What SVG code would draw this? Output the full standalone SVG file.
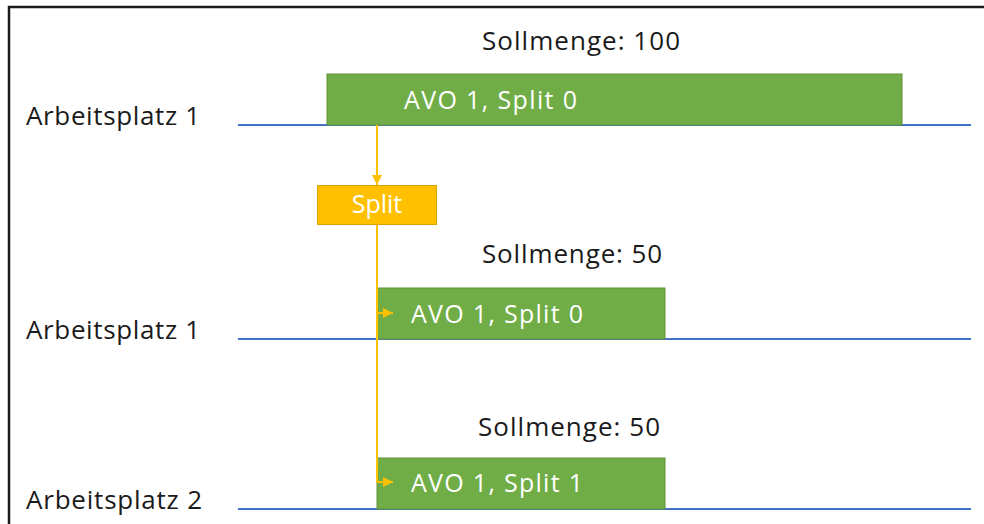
<svg xmlns="http://www.w3.org/2000/svg" width="984" height="524" viewBox="0 0 984 524">
<style>
.lbl{font-family:"Open Sans","Liberation Sans",sans-serif;font-size:26px;fill:#1a1a1a}
.wt{font-family:"Open Sans","Liberation Sans",sans-serif;font-size:25px;fill:#ffffff}
.bar{fill:#70AD47;stroke:#5E913B;stroke-width:1}
.lane{stroke:#4472C4;stroke-width:2;fill:none}
.con{stroke:#FFC000;stroke-width:2;fill:none}
</style>
<defs>
<marker id="ah" viewBox="0 0 10 10" refX="10" refY="5" markerWidth="5" markerHeight="5" orient="auto" markerUnits="strokeWidth">
<path d="M0,0 L10,5 L0,10 z" fill="#FFC000"/>
</marker>
</defs>
<rect x="0" y="0" width="984" height="524" fill="#ffffff"/>
<path d="M9,524 V7 H984" fill="none" stroke="#1a1a1a" stroke-width="2.5"/>
<g id="lanes">
<line class="lane" x1="238" y1="125" x2="971" y2="125"/>
<line class="lane" x1="238" y1="339" x2="971" y2="339"/>
<line class="lane" x1="238" y1="509" x2="971" y2="509"/>
</g>
<g id="labels">
<text class="lbl" x="26" y="125" textLength="174" lengthAdjust="spacing">Arbeitsplatz 1</text>
<text class="lbl" x="26" y="339" textLength="174" lengthAdjust="spacing">Arbeitsplatz 1</text>
<text class="lbl" x="26" y="509" textLength="176" lengthAdjust="spacing">Arbeitsplatz 2</text>
<text class="lbl" x="482" y="50" textLength="198" lengthAdjust="spacing">Sollmenge: 100</text>
<text class="lbl" x="482" y="263" textLength="180" lengthAdjust="spacing">Sollmenge: 50</text>
<text class="lbl" x="478" y="436" textLength="182" lengthAdjust="spacing">Sollmenge: 50</text>
</g>
<g id="avo1-split0-a">
<rect class="bar" x="327" y="74" width="575" height="51"/>
<text class="wt" x="404" y="109" textLength="173" lengthAdjust="spacing">AVO 1, Split 0</text>
</g>
<g id="split">
<rect x="317.5" y="185.5" width="119" height="39" fill="#FFC000" stroke="#D9A200" stroke-width="1"/>
<text class="wt" x="377" y="213" text-anchor="middle">Split</text>
</g>
<g id="avo1-split0-b">
<rect class="bar" x="377" y="288" width="288" height="51"/>
<text class="wt" x="411" y="323" textLength="172" lengthAdjust="spacing">AVO 1, Split 0</text>
</g>
<g id="avo1-split1">
<rect class="bar" x="377" y="458" width="288" height="51"/>
<text class="wt" x="411" y="492" textLength="172" lengthAdjust="spacing">AVO 1, Split 1</text>
</g>
<g id="connectors">
<line class="con" x1="377" y1="125" x2="377" y2="185" marker-end="url(#ah)"/>
<line class="con" x1="377" y1="225" x2="377" y2="483"/>
<line class="con" x1="377" y1="313" x2="393" y2="313" marker-end="url(#ah)"/>
<line class="con" x1="377" y1="482" x2="393" y2="482" marker-end="url(#ah)"/>
</g>
</svg>
